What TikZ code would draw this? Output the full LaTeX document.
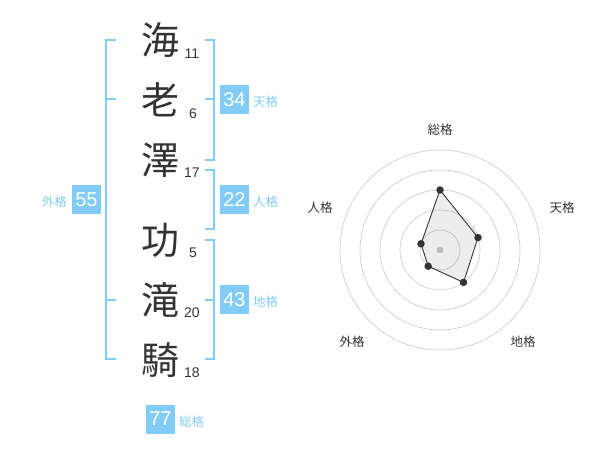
\documentclass[tikz,border=0pt]{standalone}
\usepackage{fontspec}
\setmainfont{Liberation Sans}
\newfontfamily\jp{Noto Sans CJK JP}
\definecolor{bl}{HTML}{80CCF7}
\definecolor{ink}{HTML}{333333}
\definecolor{ring}{HTML}{CCCCCC}
\begin{document}
\begin{tikzpicture}[x=1pt,y=-1pt,
  kanji/.style={inner sep=0pt,text=ink,font=\jp\fontsize{38}{38}\selectfont},
  num/.style={inner sep=0pt,text=ink,font=\fontsize{14}{14}\selectfont},
  valbox/.style={fill=bl,text=white,minimum size=29pt,inner sep=0pt,font=\fontsize{20}{20}\selectfont},
  lbl/.style={inner sep=0pt,text=bl,font=\jp\fontsize{12.5}{12.5}\selectfont},
  rlbl/.style={inner sep=0pt,text=ink,font=\jp\fontsize{12.5}{12.5}\selectfont},
  br/.style={draw=bl,line width=2pt},
  dot/.style={circle,fill=ink,inner sep=0pt,minimum size=7.5pt}]
\useasboundingbox (0,0) rectangle (600,470);
% characters
\node[kanji] (c1) at (160,40) {海};
\node[kanji] (c2) at (160,100) {老};
\node[kanji] (c3) at (160,160) {澤};
\node[kanji] (c4) at (160,240) {功};
\node[kanji] (c5) at (160,300) {滝};
\node[kanji] (c6) at (160,360) {騎};
\node[num] (n1) at (192,54) {11};
\node[num] (n2) at (193,114) {6};
\node[num] (n3) at (192,173) {17};
\node[num] (n4) at (193,253) {5};
\node[num] (n5) at (192,313) {20};
\node[num] (n6) at (192,373) {18};
% brackets
\draw[br] (116,40) -- (106,40) -- (106,359) -- (116,359);
\draw[br] (106,99) -- (116,99);
\draw[br] (106,300) -- (116,300);
\draw[br] (205,40) -- (214,40) -- (214,160) -- (205,160);
\draw[br] (205,99) -- (214,99);
\draw[br] (205,170) -- (214,170) -- (214,229) -- (205,229);
\draw[br] (205,240) -- (214,240) -- (214,359) -- (205,359);
\draw[br] (205,300) -- (214,300);
% value boxes
\node[valbox] (b55) at (86.5,200) {55};
\node[valbox] (b34) at (234.5,100) {34};
\node[valbox] (b22) at (234.5,200) {22};
\node[valbox] (b43) at (234.5,300) {43};
\node[valbox] (b77) at (160.5,419) {77};
\node[lbl,anchor=east] (l55) at (67,202) {外格};
\node[lbl,anchor=west] (l34) at (253,102) {天格};
\node[lbl,anchor=west] (l22) at (253,202) {人格};
\node[lbl,anchor=west] (l43) at (253,302) {地格};
\node[lbl,anchor=west] (l77) at (179,422) {総格};
% radar
\coordinate (ctr) at (440,250);
\foreach \r in {20,40,60,80,100} \draw[ring,line width=0.7pt] (ctr) circle[radius=\r];
\fill[ring] (ctr) circle[radius=3.5];
\node[rlbl] (r1) at (440,130) {総格};
\node[rlbl] (r2) at (562,208) {天格};
\node[rlbl] (r3) at (523,342) {地格};
\node[rlbl] (r4) at (352,342) {外格};
\node[rlbl] (r5) at (320,208) {人格};
\coordinate (p1) at (440,190);
\coordinate (p2) at (478.0,237.6);
\coordinate (p3) at (463.5,282.4);
\coordinate (p4) at (428.2,266.2);
\coordinate (p5) at (421.0,243.8);
\draw[ink,line width=0.9pt,fill=black,fill opacity=0.07] (p1) -- (p2) -- (p3) -- (p4) -- (p5) -- cycle;
\foreach \p in {p1,p2,p3,p4,p5} \node[dot] at (\p) {};
\end{tikzpicture}
\end{document}
